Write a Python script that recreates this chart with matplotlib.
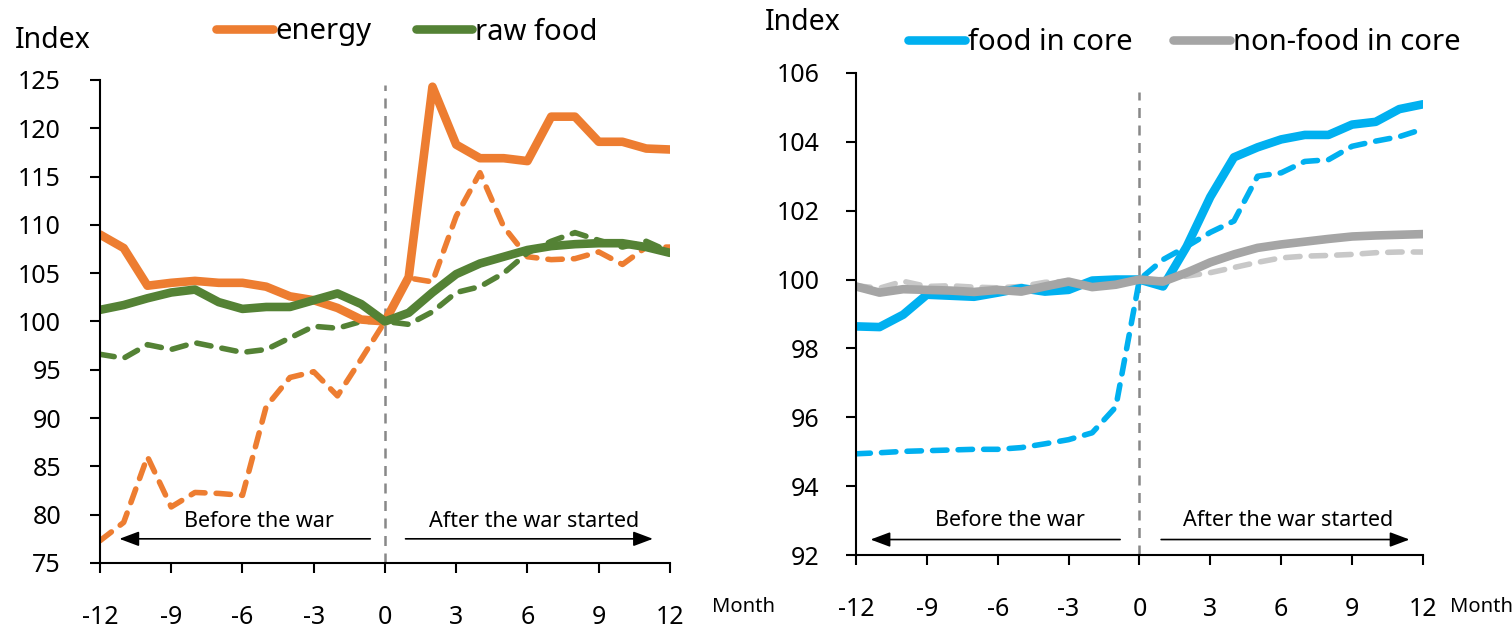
import numpy as np
import matplotlib.pyplot as plt

plt.rcParams['font.family'] = ['Noto Sans', 'DejaVu Sans']
plt.rcParams['axes.unicode_minus'] = False

months = list(range(-12, 13))

# left panel: energy and raw food (solid = this episode, dashed = comparison)
energy = [109.0, 107.6, 103.7, 104.0, 104.2, 104.0, 104.0, 103.6, 102.6, 102.2, 101.4, 100.2, 100.0,
          104.6, 124.3, 118.3, 116.9, 116.9, 116.6, 121.2, 121.2, 118.6, 118.6, 117.9, 117.8]
energy_dash = [77.3, 79.2, 86.0, 80.8, 82.3, 82.2, 82.0, 91.2, 94.2, 94.8, 92.3, 96.1, 100.0,
               104.5, 104.1, 110.9, 115.4, 109.8, 106.7, 106.4, 106.5, 107.2, 105.9, 107.7, 107.7]
raw_food = [101.2, 101.7, 102.4, 103.0, 103.3, 102.0, 101.3, 101.5, 101.5, 102.2, 102.9, 101.8, 100.0,
            100.9, 103.0, 104.9, 106.0, 106.7, 107.4, 107.8, 108.0, 108.1, 108.1, 107.7, 107.1]
raw_food_dash = [96.6, 96.2, 97.6, 97.1, 97.8, 97.3, 96.8, 97.1, 98.3, 99.5, 99.3, 100.0, 100.0,
                 99.7, 101.0, 103.0, 103.6, 105.0, 107.1, 108.3, 109.2, 108.4, 107.7, 108.3, 107.2]

# right panel: core components
food_core = [98.64, 98.62, 98.98, 99.56, 99.53, 99.50, 99.62, 99.75, 99.65, 99.70, 99.97, 100.0, 100.0,
             99.80, 100.96, 102.4, 103.55, 103.84, 104.07, 104.2, 104.2, 104.5, 104.58, 104.95, 105.09]
food_core_dash = [94.94, 94.97, 95.01, 95.03, 95.05, 95.07, 95.07, 95.12, 95.23, 95.35, 95.55, 96.3, 100.0,
                  100.58, 100.96, 101.37, 101.7, 103.0, 103.1, 103.43, 103.48, 103.87, 104.02, 104.15, 104.37]
nonfood_core = [99.80, 99.62, 99.72, 99.70, 99.68, 99.64, 99.70, 99.65, 99.80, 99.94, 99.78, 99.85, 100.0,
                99.94, 100.2, 100.5, 100.73, 100.92, 101.02, 101.1, 101.18, 101.25, 101.28, 101.3, 101.32]
nonfood_core_dash = [99.82, 99.75, 99.95, 99.80, 99.82, 99.78, 99.76, 99.80, 99.92, 99.95, 99.85, 99.90, 100.0,
                     100.0, 100.1, 100.2, 100.35, 100.5, 100.63, 100.68, 100.7, 100.73, 100.78, 100.8, 100.8]

ORANGE = '#ED7D31'
GREEN = '#548235'
BLUE = '#00B0F0'
GREY = '#A5A5A5'
LIGHT_GREY = '#C8C8C8'

fig = plt.figure(figsize=(15.12, 6.31), dpi=100)
ax1 = fig.add_axes([0.0661, 0.1078, 0.377, 0.7655])
ax2 = fig.add_axes([0.5661, 0.1204, 0.375, 0.764])

solid_kw = dict(lw=6.2, solid_capstyle='round', solid_joinstyle='round')
dash_kw = dict(lw=4.0, ls=(0, (2.6, 2.0)), dash_capstyle='round')
arrow_kw = dict(arrowstyle='-|>,head_length=1.2,head_width=0.45', color='black', lw=1.2)


def style_axis(ax, ylim, yticks, ypad):
    ax.set_xlim(-12, 12)
    ax.set_ylim(*ylim)
    ax.set_xticks(range(-12, 13, 3))
    ax.set_yticks(yticks)
    for s in ['top', 'right']:
        ax.spines[s].set_visible(False)
    for s in ['left', 'bottom']:
        ax.spines[s].set_linewidth(1.5)
    ax.tick_params(axis='both', direction='out', length=7, width=1.5, labelsize=18)
    ax.tick_params(axis='x', pad=23)
    ax.tick_params(axis='y', pad=ypad)
    ax.patch.set_alpha(0)


# left panel
ax1.axvline(0, ymax=0.99, color='#888888', lw=1.8, ls=(0, (4, 3)), zorder=1)
ax1.plot(months, energy_dash, color=ORANGE, **dash_kw)
ax1.plot(months, raw_food_dash, color=GREEN, **dash_kw)
l1, = ax1.plot(months, energy, color=ORANGE, label='energy', **solid_kw)
l2, = ax1.plot(months, raw_food, color=GREEN, label='raw food', **solid_kw)
style_axis(ax1, (75, 125), range(75, 126, 5), 21)

ax1.annotate('', xy=(-11.3, 77.5), xytext=(-0.5, 77.5), arrowprops=arrow_kw)
ax1.annotate('', xy=(11.4, 77.5), xytext=(0.75, 77.5), arrowprops=arrow_kw)
ax1.text(-5.3, 79.3, 'Before the war', ha='center', va='center', fontsize=15.5)
ax1.text(6.3, 79.3, 'After the war started', ha='center', va='center', fontsize=15.5)

fig.text(15 / 1512, 1 - 40 / 631, 'Index', ha='left', va='center', fontsize=20.5)
fig.text(712 / 1512, 1 - 607 / 631, 'Month', ha='left', va='center', fontsize=14.5)
fig.legend(handles=[l1, l2], loc='center left', bbox_to_anchor=(216 / 1512, 1 - 32 / 631),
           ncol=2, frameon=False, fontsize=21, handlelength=1.95, handletextpad=0.1,
           columnspacing=1.5, borderpad=0, borderaxespad=0)

# right panel
ax2.axvline(0, ymax=0.96, color='#888888', lw=1.8, ls=(0, (4, 3)), zorder=1)
ax2.plot(months, nonfood_core_dash, color=LIGHT_GREY, **dash_kw)
ax2.plot(months, food_core_dash, color=BLUE, **dash_kw)
l3, = ax2.plot(months, food_core, color=BLUE, label='food in core', **solid_kw)
l4, = ax2.plot(months, nonfood_core, color=GREY, label='non-food in core', **solid_kw)
style_axis(ax2, (92, 106), range(92, 107, 2), 19)

ax2.annotate('', xy=(-11.5, 92.45), xytext=(-0.7, 92.45), arrowprops=arrow_kw)
ax2.annotate('', xy=(11.55, 92.45), xytext=(0.8, 92.45), arrowprops=arrow_kw)
ax2.text(-5.5, 93.0, 'Before the war', ha='center', va='center', fontsize=15.5)
ax2.text(6.3, 93.0, 'After the war started', ha='center', va='center', fontsize=15.5)

fig.text(765 / 1512, 1 - 22 / 631, 'Index', ha='left', va='center', fontsize=20.5)
fig.text(1450 / 1512, 1 - 607 / 631, 'Month', ha='left', va='center', fontsize=14.5)
fig.legend(handles=[l3, l4], loc='center left', bbox_to_anchor=(908 / 1512, 1 - 43 / 631),
           ncol=2, frameon=False, fontsize=21, handlelength=1.95, handletextpad=0.1,
           columnspacing=1.4, borderpad=0, borderaxespad=0)

fig.savefig('out.png', dpi=100)
